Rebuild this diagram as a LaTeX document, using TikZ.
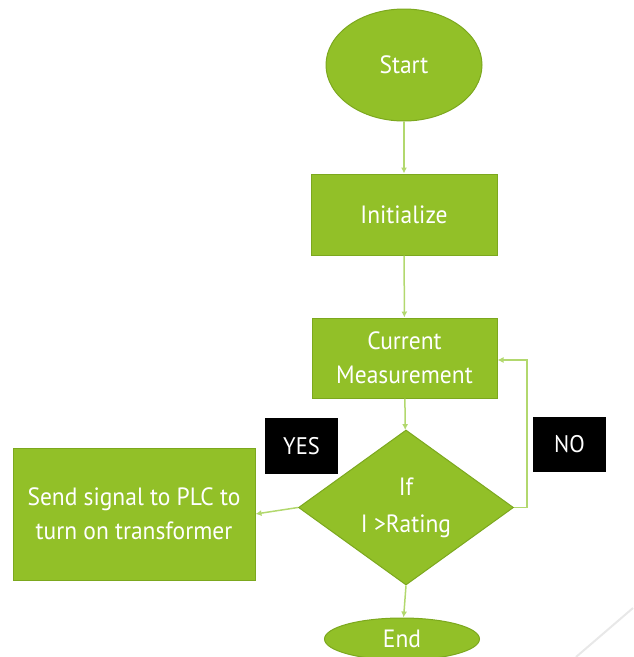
\documentclass[tikz,border=0pt]{standalone}
\usepackage{fontspec}
\setmainfont{PT Sans}[FakeStretch=0.94]
\usetikzlibrary{shapes.geometric,arrows.meta}
\definecolor{gfill}{RGB}{146,192,40}
\definecolor{gdraw}{RGB}{124,168,30}
\definecolor{gline}{RGB}{178,216,110}
\begin{document}
\begin{tikzpicture}[x=1pt,y=-1pt,
  base/.style={fill=gfill,draw=gdraw,line width=1pt,text=white,align=center,
    font=\fontsize{25}{34}\selectfont,inner sep=0pt},
  term/.style={base,ellipse},
  proc/.style={base,rectangle},
  dec/.style={base,diamond,aspect=1.39,font=\fontsize{25}{37}\selectfont},
  tag/.style={fill=black,text=white,font=\fontsize{24}{28}\selectfont,inner sep=0pt},
  link/.style={draw=gline,line width=1.5pt,-{Latex[length=6pt,width=6pt]}}]
\useasboundingbox (0,0) rectangle (633,657);
\draw[black!9,line width=2pt] (633,608) -- (576,657);
\node[term,minimum width=156pt,minimum height=112pt] (start) at (404,65) {Start};
\node[proc,minimum width=186pt,minimum height=81pt] (init) at (404,214.5) {Initialize};
\node[proc,minimum width=185pt,minimum height=80pt] (meas) at (404.5,358) {Current\\Measurement};
\node[dec,minimum width=215pt,minimum height=155pt] (cond) at (406,507.5) {If\\I >Rating};
\node[proc,minimum width=242pt,minimum height=132pt] (send) at (134,514) {Send signal to PLC to\\turn on transformer};
\node[term,minimum width=155pt,minimum height=42pt] (end) at (402,639) {End};
\node[tag,minimum width=73pt,minimum height=56pt] (yes) at (301.5,446) {YES};
\node[tag,minimum width=73pt,minimum height=55pt] (no) at (569.5,444.5) {NO};
\coordinate (nocorner) at (527,507.5);
\coordinate (nocorner2) at (527,360);
\draw[link] (start) -- (init);
\draw[link] (init) -- (meas);
\draw[link] (meas) -- (cond);
\draw[link] (cond.south) -- (end);
\draw[link] (cond.west) -- (send.east);
\draw[link] (cond.east) -- (nocorner) -- (nocorner2) -- (meas.east |- nocorner2);
\end{tikzpicture}
\end{document}
